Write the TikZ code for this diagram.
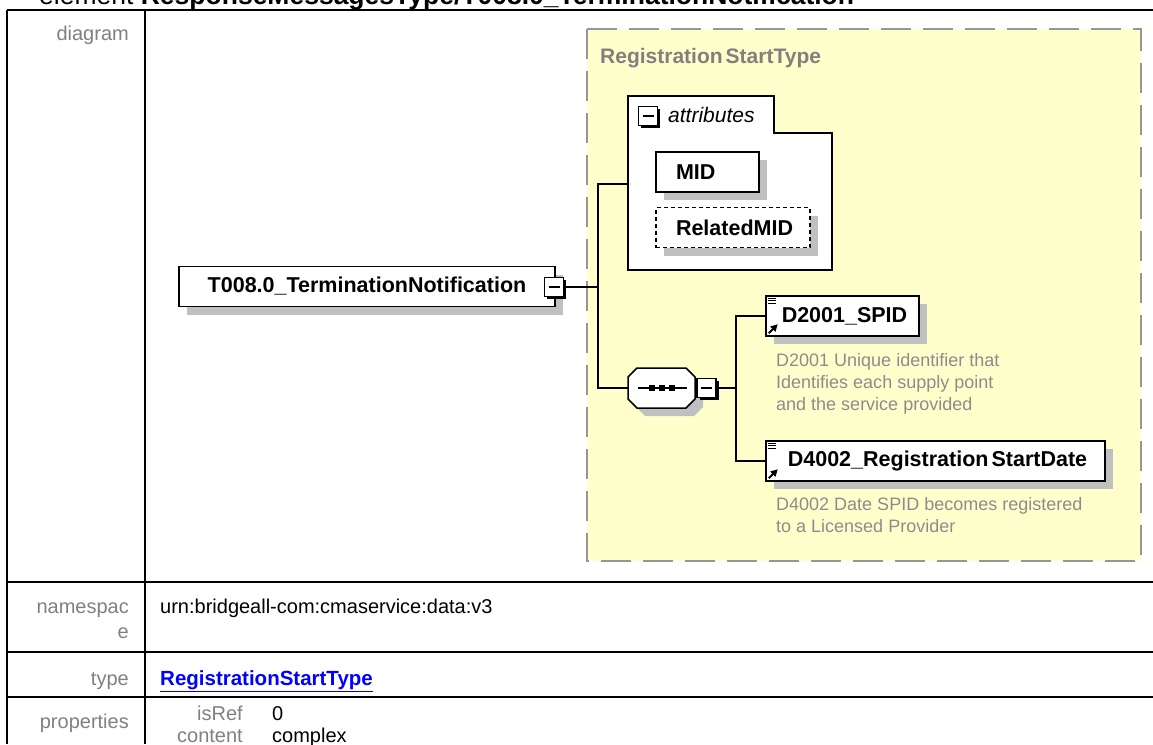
\documentclass[tikz,border=0pt]{standalone}
\usepackage{fontspec}
\setmainfont{Liberation Sans}
\definecolor{xsdyellow}{RGB}{255, 255, 204}
\definecolor{xsdframe}{RGB}{150, 150, 150}
\definecolor{xsdshadow}{RGB}{192, 192, 192}
\definecolor{xsdlabel}{RGB}{128, 128, 128}
\definecolor{xsddoc}{RGB}{140, 140, 140}
\definecolor{xsdlink}{RGB}{0, 0, 255}
\usepackage{tikz}
\usetikzlibrary{shadows, arrows.meta}

\begin{document}
\begin{tikzpicture}[x=1pt, y=-1pt,
    elem/.style={draw, fill=white, line width=1.5pt, minimum height=40, inner sep=0pt,
                 font=\fontsize{21.5}{24}\selectfont\bfseries,
                 drop shadow={shadow xshift=8pt, shadow yshift=-8pt, fill=xsdshadow, opacity=1}},
    attr/.style={elem, align=left, inner xsep=20pt},
    collapse/.style={draw, fill=white, line width=1.5pt, minimum size=19, inner sep=0pt,
                 drop shadow={shadow xshift=2.5pt, shadow yshift=-2.5pt, fill=black, opacity=1},
                 path picture={\draw[line width=1.5pt]
                   ([xshift=4pt]path picture bounding box.west) --
                   ([xshift=-4pt]path picture bounding box.east);}},
    seqbox/.style={minimum width=67, minimum height=40, inner sep=0pt},
    doc/.style={font=\fontsize{18}{22}\selectfont, text=xsddoc, align=left, inner sep=0pt,
                anchor=north west},
    lbl/.style={font=\fontsize{20}{22}\selectfont, text=xsdlabel, anchor=base east, inner sep=0pt},
    val/.style={font=\fontsize{20}{22}\selectfont, anchor=base west, inner sep=0pt},
    conn/.style={line width=1.5pt},
    grid/.style={line width=2pt}
  ]
    \useasboundingbox (0,0) rectangle (1153,744);
    \clip (0,0) rectangle (1153,744);

    % heading and table
    \node[anchor=base west, inner sep=0pt, font=\fontsize{26.5}{30}\selectfont] (title) at (39,5)
      {element \textbf{ResponseMessagesType/T008.0\_TerminationNotification}};
    \draw[grid] (7,10) -- (1153,10) (7,582) -- (1153,582)
      (7,652) -- (1153,652) (7,697) -- (1153,697);
    \draw[grid] (7,10) -- (7,744) (145,10) -- (145,744);

    \node[lbl] (diag) at (129,40) {diagram};
    \node[lbl] (ns1) at (129,613) {namespac};
    \node[lbl] (ns2) at (129,638) {e};
    \node[lbl] (typ) at (129,685) {type};
    \node[lbl] (props) at (129,728) {properties};
    \node[val] (nsval) at (160,613) {urn:bridgeall-com:cmaservice:data:v3};
    \node[val, text=xsdlink, font=\fontsize{20.5}{22}\selectfont\bfseries] (typelink) at (160,685)
      {\underline{RegistrationStartType}};
    \node[lbl] (isref) at (243,720) {isRef};
    \node[val] (isrefval) at (272,720) {0};
    \node[lbl] (content) at (243,742) {content};
    \node[val] (contentval) at (272,742) {complex};

    % complex type area
    \draw[xsdframe, dash pattern=on 30pt off 12pt, line width=2pt, fill=xsdyellow]
      (587,29) rectangle (1141,561);
    \node[anchor=base west, inner sep=0pt, text=xsdlabel, font=\fontsize{21}{24}\selectfont\bfseries]
      (typelbl) at (600,63) {Registration\kern3pt StartType};

    % attributes
    \draw[line width=1.5pt, fill=white] (628,96) -- (774,96) -- (774,133) -- (832,133)
      -- (832,270) -- (628,270) -- cycle;
    \node[collapse] (attrcol) at (648,116) {};
    \node[anchor=base west, inner sep=0pt, font=\fontsize{21}{24}\selectfont\itshape]
      (attrlbl) at (668,122) {attributes};
    \coordinate (attrin) at (628,184);
    \node[attr, text width=63] (mid) at (707.5,172) {MID};
    \node[attr, text width=114, dash pattern=on 4pt off 3pt] (rmid) at (733,227.5) {RelatedMID};

    % element and sequence
    \node[elem, minimum width=376] (tn) at (367,286.5) {T008.0\_TerminationNotification};
    \node[collapse] (tncol) at (554,287) {};
    \path[fill=xsdshadow] (645,376) -- (694,376) -- (703,385) -- (703,407)
      -- (694,416) -- (645,416) -- (636,407) -- (636,385) -- cycle;
    \path[fill=white, draw=black, line width=1.5pt] (637,368) -- (686,368) -- (695,377)
      -- (695,399) -- (686,408) -- (637,408) -- (628,399) -- (628,377) -- cycle;
    \node[seqbox] (seq) at (661.5,388) {};
    \draw[line width=1.5pt] ([xshift=10pt]seq.west) -- ([xshift=-8pt]seq.east);
    \foreach \dx in {-10,0,10}
      \fill ([xshift=\dx pt]seq.center) +(-3,-3) rectangle +(3,3);
    \node[collapse] (seqcol) at (706.5,388) {};

    \node[elem, minimum width=153] (spid) at (842.5,316) {\kern4pt D2001\_SPID};
    \node[elem, minimum width=339] (rsd) at (935.5,461)
      {\kern4pt D4002\_Registration\kern3pt StartDate};
    \foreach \b in {spid, rsd} {
      \foreach \dy in {3, 5.5, 8}
        \draw[line width=1pt] ([shift={(2.5,\dy)}]\b.north west) -- ++(8,0);
      \draw[-{Triangle[length=7pt, width=7pt]}, line width=2pt]
        ([shift={(3.5,-3.5)}]\b.south west) -- ++(9,-9);
    }
    \node[doc] (spiddoc) at (776,353)
      {D2001 Unique identifier that\\Identifies each supply point\\and the service provided};
    \node[doc] (rsddoc) at (776,497)
      {D4002 Date SPID becomes registered\\to a Licensed Provider};

    % connectors
    \coordinate (fork1) at (598,287);
    \coordinate (fork2) at (736,388);
    \draw[conn] (tncol) -- (fork1);
    \draw[conn] (attrin) -| (fork1) |- (seq);
    \draw[conn] (seqcol) -- (fork2);
    \draw[conn] (spid) -| (fork2) |- (rsd);
  \end{tikzpicture}
\end{document}
